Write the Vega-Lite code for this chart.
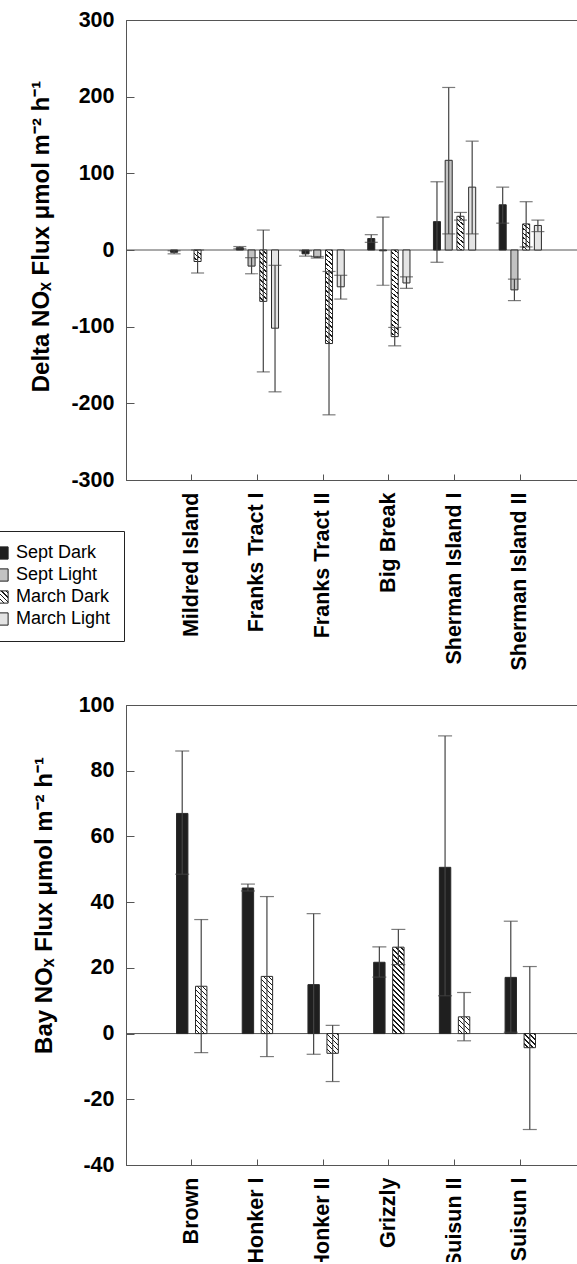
{
  "$schema": "https://vega.github.io/schema/vega-lite/v6.json",
  "padding": {"left": -21, "top": 8, "right": -9, "bottom": -8},
  "background": "#ffffff",
  "bounds": "flush",
  "spacing": 225,
  "params": [
    {"name": "hatchStops", "value": [
      {"offset":0,"color":"#fff"},{"offset":0.02333,"color":"#fff"},{"offset":0.02333,"color":"#1a1a1a"},{"offset":0.03333,"color":"#1a1a1a"},
      {"offset":0.03333,"color":"#fff"},{"offset":0.05667,"color":"#fff"},{"offset":0.05667,"color":"#1a1a1a"},{"offset":0.06667,"color":"#1a1a1a"},
      {"offset":0.06667,"color":"#fff"},{"offset":0.09,"color":"#fff"},{"offset":0.09,"color":"#1a1a1a"},{"offset":0.1,"color":"#1a1a1a"},
      {"offset":0.1,"color":"#fff"},{"offset":0.12333,"color":"#fff"},{"offset":0.12333,"color":"#1a1a1a"},{"offset":0.13333,"color":"#1a1a1a"},
      {"offset":0.13333,"color":"#fff"},{"offset":0.15667,"color":"#fff"},{"offset":0.15667,"color":"#1a1a1a"},{"offset":0.16667,"color":"#1a1a1a"},
      {"offset":0.16667,"color":"#fff"},{"offset":0.19,"color":"#fff"},{"offset":0.19,"color":"#1a1a1a"},{"offset":0.2,"color":"#1a1a1a"},
      {"offset":0.2,"color":"#fff"},{"offset":0.22333,"color":"#fff"},{"offset":0.22333,"color":"#1a1a1a"},{"offset":0.23333,"color":"#1a1a1a"},
      {"offset":0.23333,"color":"#fff"},{"offset":0.25667,"color":"#fff"},{"offset":0.25667,"color":"#1a1a1a"},{"offset":0.26667,"color":"#1a1a1a"},
      {"offset":0.26667,"color":"#fff"},{"offset":0.29,"color":"#fff"},{"offset":0.29,"color":"#1a1a1a"},{"offset":0.3,"color":"#1a1a1a"},
      {"offset":0.3,"color":"#fff"},{"offset":0.32333,"color":"#fff"},{"offset":0.32333,"color":"#1a1a1a"},{"offset":0.33333,"color":"#1a1a1a"},
      {"offset":0.33333,"color":"#fff"},{"offset":0.35667,"color":"#fff"},{"offset":0.35667,"color":"#1a1a1a"},{"offset":0.36667,"color":"#1a1a1a"},
      {"offset":0.36667,"color":"#fff"},{"offset":0.39,"color":"#fff"},{"offset":0.39,"color":"#1a1a1a"},{"offset":0.4,"color":"#1a1a1a"},
      {"offset":0.4,"color":"#fff"},{"offset":0.42333,"color":"#fff"},{"offset":0.42333,"color":"#1a1a1a"},{"offset":0.43333,"color":"#1a1a1a"},
      {"offset":0.43333,"color":"#fff"},{"offset":0.45667,"color":"#fff"},{"offset":0.45667,"color":"#1a1a1a"},{"offset":0.46667,"color":"#1a1a1a"},
      {"offset":0.46667,"color":"#fff"},{"offset":0.49,"color":"#fff"},{"offset":0.49,"color":"#1a1a1a"},{"offset":0.5,"color":"#1a1a1a"},
      {"offset":0.5,"color":"#fff"},{"offset":0.52333,"color":"#fff"},{"offset":0.52333,"color":"#1a1a1a"},{"offset":0.53333,"color":"#1a1a1a"},
      {"offset":0.53333,"color":"#fff"},{"offset":0.55667,"color":"#fff"},{"offset":0.55667,"color":"#1a1a1a"},{"offset":0.56667,"color":"#1a1a1a"},
      {"offset":0.56667,"color":"#fff"},{"offset":0.59,"color":"#fff"},{"offset":0.59,"color":"#1a1a1a"},{"offset":0.6,"color":"#1a1a1a"},
      {"offset":0.6,"color":"#fff"},{"offset":0.62333,"color":"#fff"},{"offset":0.62333,"color":"#1a1a1a"},{"offset":0.63333,"color":"#1a1a1a"},
      {"offset":0.63333,"color":"#fff"},{"offset":0.65667,"color":"#fff"},{"offset":0.65667,"color":"#1a1a1a"},{"offset":0.66667,"color":"#1a1a1a"},
      {"offset":0.66667,"color":"#fff"},{"offset":0.69,"color":"#fff"},{"offset":0.69,"color":"#1a1a1a"},{"offset":0.7,"color":"#1a1a1a"},
      {"offset":0.7,"color":"#fff"},{"offset":0.72333,"color":"#fff"},{"offset":0.72333,"color":"#1a1a1a"},{"offset":0.73333,"color":"#1a1a1a"},
      {"offset":0.73333,"color":"#fff"},{"offset":0.75667,"color":"#fff"},{"offset":0.75667,"color":"#1a1a1a"},{"offset":0.76667,"color":"#1a1a1a"},
      {"offset":0.76667,"color":"#fff"},{"offset":0.79,"color":"#fff"},{"offset":0.79,"color":"#1a1a1a"},{"offset":0.8,"color":"#1a1a1a"},
      {"offset":0.8,"color":"#fff"},{"offset":0.82333,"color":"#fff"},{"offset":0.82333,"color":"#1a1a1a"},{"offset":0.83333,"color":"#1a1a1a"},
      {"offset":0.83333,"color":"#fff"},{"offset":0.85667,"color":"#fff"},{"offset":0.85667,"color":"#1a1a1a"},{"offset":0.86667,"color":"#1a1a1a"},
      {"offset":0.86667,"color":"#fff"},{"offset":0.89,"color":"#fff"},{"offset":0.89,"color":"#1a1a1a"},{"offset":0.9,"color":"#1a1a1a"},
      {"offset":0.9,"color":"#fff"},{"offset":0.92333,"color":"#fff"},{"offset":0.92333,"color":"#1a1a1a"},{"offset":0.93333,"color":"#1a1a1a"},
      {"offset":0.93333,"color":"#fff"},{"offset":0.95667,"color":"#fff"},{"offset":0.95667,"color":"#1a1a1a"},{"offset":0.96667,"color":"#1a1a1a"},
      {"offset":0.96667,"color":"#fff"},{"offset":0.99,"color":"#fff"},{"offset":0.99,"color":"#1a1a1a"},{"offset":1,"color":"#1a1a1a"}
    ]}
  ],
  "config": {
    "font": "Liberation Sans",
    "view": {"stroke": "#555555", "strokeWidth": 1},
    "axis": {
      "grid": false,
      "domainColor": "#555555",
      "tickColor": "#555555",
      "labelFont": "Liberation Sans",
      "labelFontSize": 21.5,
      "labelFontWeight": "bold",
      "labelColor": "#000000",
      "titleFont": "Liberation Sans",
      "titleFontSize": 24,
      "titleFontWeight": "bold",
      "titleColor": "#000000",
      "tickSize": -8,
      "labelPadding": 20
    }
  },
  "resolve": {
    "scale": {"x": "independent", "y": "independent", "xOffset": "independent", "fill": "independent"},
    "legend": {"fill": "independent"}
  },
  "vconcat": [
    {
      "width": 460,
      "height": 460,
      "layer": [
        {
          "data": {"values": [{"zero": 0}]},
          "mark": {"type": "rule", "color": "#555555", "strokeWidth": 1},
          "encoding": {"y": {"datum": 0, "type": "quantitative", "scale": {"domain": [-300, 300], "nice": false}}}
        },
        {
          "data": {"values": [
            {"site":"Mildred Island","series":"Sept Dark","value":-3,"lo":-5,"hi":-1},
            {"site":"Mildred Island","series":"March Dark","value":-15,"lo":-30,"hi":0},
            {"site":"Franks Tract I","series":"Sept Dark","value":3,"lo":1.5,"hi":4.5},
            {"site":"Franks Tract I","series":"Sept Light","value":-21,"lo":-31,"hi":-10},
            {"site":"Franks Tract I","series":"March Dark","value":-67,"lo":-159,"hi":26},
            {"site":"Franks Tract I","series":"March Light","value":-102,"lo":-185,"hi":-20},
            {"site":"Franks Tract II","series":"Sept Dark","value":-5,"lo":-8,"hi":-1},
            {"site":"Franks Tract II","series":"Sept Light","value":-9.5,"lo":-10.5,"hi":-8.5},
            {"site":"Franks Tract II","series":"March Dark","value":-122,"lo":-215,"hi":-28},
            {"site":"Franks Tract II","series":"March Light","value":-48,"lo":-64,"hi":-33},
            {"site":"Big Break","series":"Sept Dark","value":15,"lo":10,"hi":20},
            {"site":"Big Break","series":"Sept Light","value":-1,"lo":-46,"hi":43},
            {"site":"Big Break","series":"March Dark","value":-113,"lo":-125,"hi":-101},
            {"site":"Big Break","series":"March Light","value":-43,"lo":-50,"hi":-35},
            {"site":"Sherman Island I","series":"Sept Dark","value":37,"lo":-16,"hi":89},
            {"site":"Sherman Island I","series":"Sept Light","value":117,"lo":21,"hi":212},
            {"site":"Sherman Island I","series":"March Dark","value":44,"lo":39,"hi":49},
            {"site":"Sherman Island I","series":"March Light","value":82,"lo":21,"hi":142},
            {"site":"Sherman Island II","series":"Sept Dark","value":59,"lo":35,"hi":82},
            {"site":"Sherman Island II","series":"Sept Light","value":-52,"lo":-66,"hi":-38},
            {"site":"Sherman Island II","series":"March Dark","value":34,"lo":4,"hi":63},
            {"site":"Sherman Island II","series":"March Light","value":32,"lo":24,"hi":39}
          ]},
          "encoding": {
            "x": {
              "field": "site", "type": "nominal",
              "sort": ["Mildred Island", "Franks Tract I", "Franks Tract II", "Big Break", "Sherman Island I", "Sherman Island II"],
              "scale": {"paddingInner": 0, "paddingOuter": 0.5},
              "axis": {"title": null, "labelAngle": 270, "labelPadding": 18, "tickSize": -6}
            },
            "xOffset": {
              "field": "series", "type": "nominal",
              "sort": ["Sept Dark", "Sept Light", "March Dark", "March Light"],
              "scale": {"domain": ["Sept Dark", "Sept Light", "March Dark", "March Light"], "paddingInner": 0.4, "paddingOuter": 1.486}
            }
          },
          "layer": [
            {
              "mark": {"type": "bar", "stroke": "#2a2a2a", "strokeWidth": 1},
              "encoding": {
                "y": {
                  "field": "value", "type": "quantitative",
                  "scale": {"domain": [-300, 300], "nice": false},
                  "axis": {
                    "values": [-300, -200, -100, 0, 100, 200, 300],
                    "labelExpr": "datum.value < 0 ? '-' + abs(datum.value) : '' + datum.value",
                    "title": "Delta NOₓ Flux μmol m⁻² h⁻¹",
                    "titleAngle": 270, "titleX": -78, "titleY": 216,
                    "titleBaseline": "alphabetic", "titleAlign": "center"
                  }
                },
                "fill": {
                  "condition": {
                    "test": "datum.series === 'March Dark'",
                    "value": {"expr": "{gradient: 'linear', x1: 0, y1: 1, x2: 22.5/(1+pow(abs(datum.value)*0.12778,2)), y2: 1-22.5/(1+pow(abs(datum.value)*0.12778,2))*abs(datum.value)*0.12778, stops: hatchStops}"}
                  },
                  "field": "series", "type": "nominal",
                  "scale": {
                    "domain": ["Sept Dark", "Sept Light", "March Dark", "March Light"],
                    "range": [
                      "#1f1f1f",
                      "#c2c2c2",
                      {"expr": "{gradient: 'linear', x1: 0, y1: 1, x2: 5.6, y2: -4.6, stops: hatchStops}"},
                      "#e4e4e4"
                    ]
                  },
                  "legend": {
                    "title": null,
                    "orient": "none",
                    "legendX": -146,
                    "legendY": 511,
                    "direction": "vertical",
                    "strokeColor": "#222222",
                    "fillColor": "#ffffff",
                    "padding": 13,
                    "symbolType": "square",
                    "symbolSize": 150,
                    "symbolStrokeColor": "#222222",
                    "symbolStrokeWidth": 1,
                    "symbolOpacity": 1,
                    "labelFont": "Liberation Sans",
                    "labelFontSize": 18,
                    "labelColor": "#000000",
                    "labelOffset": 5,
                    "rowPadding": 4,
                    "encode": {
                      "symbols": {
                        "update": {
                          "stroke": {"value": "#222222"},
                          "strokeWidth": {"value": 1},
                          "opacity": {"value": 1},
                          "fillOpacity": {"value": 1}
                        }
                      }
                    }
                  }
                }
              }
            },
            {
              "mark": {"type": "rule", "color": "#444444", "strokeWidth": 1.2},
              "encoding": {
                "y": {"field": "lo", "type": "quantitative", "scale": {"domain": [-300, 300], "nice": false}},
                "y2": {"field": "hi"}
              }
            },
            {
              "mark": {"type": "tick", "orient": "horizontal", "color": "#444444", "thickness": 1.2},
              "encoding": {
                "y": {"field": "lo", "type": "quantitative", "scale": {"domain": [-300, 300], "nice": false}},
                "size": {"value": 13}
              }
            },
            {
              "mark": {"type": "tick", "orient": "horizontal", "color": "#444444", "thickness": 1.2},
              "encoding": {
                "y": {"field": "hi", "type": "quantitative", "scale": {"domain": [-300, 300], "nice": false}},
                "size": {"value": 13}
              }
            }
          ]
        }
      ]
    },
    {
      "width": 460,
      "height": 460,
      "layer": [
        {
          "data": {"values": [{"zero": 0}]},
          "mark": {"type": "rule", "color": "#555555", "strokeWidth": 1},
          "encoding": {"y": {"datum": 0, "type": "quantitative", "scale": {"domain": [-40, 100], "nice": false}}}
        },
        {
          "data": {"values": [
            {"site":"Brown","series":"Sept Dark","value":67,"lo":48.5,"hi":86},
            {"site":"Brown","series":"March Dark","value":14.4,"lo":-5.8,"hi":34.7},
            {"site":"Honker I","series":"Sept Dark","value":44.3,"lo":43.4,"hi":45.5},
            {"site":"Honker I","series":"March Dark","value":17.4,"lo":-7,"hi":41.7},
            {"site":"Honker II","series":"Sept Dark","value":14.9,"lo":-6.3,"hi":36.5},
            {"site":"Honker II","series":"March Dark","value":-6,"lo":-14.6,"hi":2.5},
            {"site":"Grizzly","series":"Sept Dark","value":21.7,"lo":17.2,"hi":26.4},
            {"site":"Grizzly","series":"March Dark","value":26.3,"lo":21,"hi":31.7},
            {"site":"Suisun II","series":"Sept Dark","value":50.6,"lo":11.5,"hi":90.6},
            {"site":"Suisun II","series":"March Dark","value":5.1,"lo":-2.2,"hi":12.5},
            {"site":"Suisun I","series":"Sept Dark","value":17.1,"lo":0.4,"hi":34.2},
            {"site":"Suisun I","series":"March Dark","value":-4.3,"lo":-29.2,"hi":20.4}
          ]},
          "encoding": {
            "x": {
              "field": "site", "type": "nominal",
              "sort": ["Brown", "Honker I", "Honker II", "Grizzly", "Suisun II", "Suisun I"],
              "scale": {"paddingInner": 0, "paddingOuter": 0.5},
              "axis": {"title": null, "labelAngle": 270, "labelPadding": 18, "tickSize": -6}
            },
            "xOffset": {
              "field": "series", "type": "nominal",
              "sort": ["Sept Dark", "March Dark"],
              "scale": {"domain": ["Sept Dark", "March Dark"], "paddingInner": 0.4, "paddingOuter": 0.929}
            }
          },
          "layer": [
            {
              "mark": {"type": "bar", "stroke": "#2a2a2a", "strokeWidth": 1},
              "encoding": {
                "y": {
                  "field": "value", "type": "quantitative",
                  "scale": {"domain": [-40, 100], "nice": false},
                  "axis": {
                    "values": [-40, -20, 0, 20, 40, 60, 80, 100],
                    "labelExpr": "datum.value < 0 ? '-' + abs(datum.value) : '' + datum.value",
                    "title": "Bay NOₓ Flux μmol m⁻² h⁻¹",
                    "titleAngle": 270, "titleX": -75, "titleY": 200,
                    "titleBaseline": "alphabetic", "titleAlign": "center"
                  }
                },
                "fill": {
                  "condition": {
                    "test": "datum.series === 'March Dark'",
                    "value": {"expr": "{gradient: 'linear', x1: 0, y1: 1, x2: 13.158/(1+pow(abs(datum.value)*0.28822,2)), y2: 1-13.158/(1+pow(abs(datum.value)*0.28822,2))*abs(datum.value)*0.28822, stops: hatchStops}"}
                  },
                  "field": "series", "type": "nominal",
                  "scale": {"domain": ["Sept Dark", "March Dark"], "range": ["#1f1f1f", "#ffffff"]},
                  "legend": null
                }
              }
            },
            {
              "mark": {"type": "rule", "color": "#444444", "strokeWidth": 1.2},
              "encoding": {
                "y": {"field": "lo", "type": "quantitative", "scale": {"domain": [-40, 100], "nice": false}},
                "y2": {"field": "hi"}
              }
            },
            {
              "mark": {"type": "tick", "orient": "horizontal", "color": "#444444", "thickness": 1.2},
              "encoding": {
                "y": {"field": "lo", "type": "quantitative", "scale": {"domain": [-40, 100], "nice": false}},
                "size": {"value": 14}
              }
            },
            {
              "mark": {"type": "tick", "orient": "horizontal", "color": "#444444", "thickness": 1.2},
              "encoding": {
                "y": {"field": "hi", "type": "quantitative", "scale": {"domain": [-40, 100], "nice": false}},
                "size": {"value": 14}
              }
            }
          ]
        }
      ]
    }
  ]
}
